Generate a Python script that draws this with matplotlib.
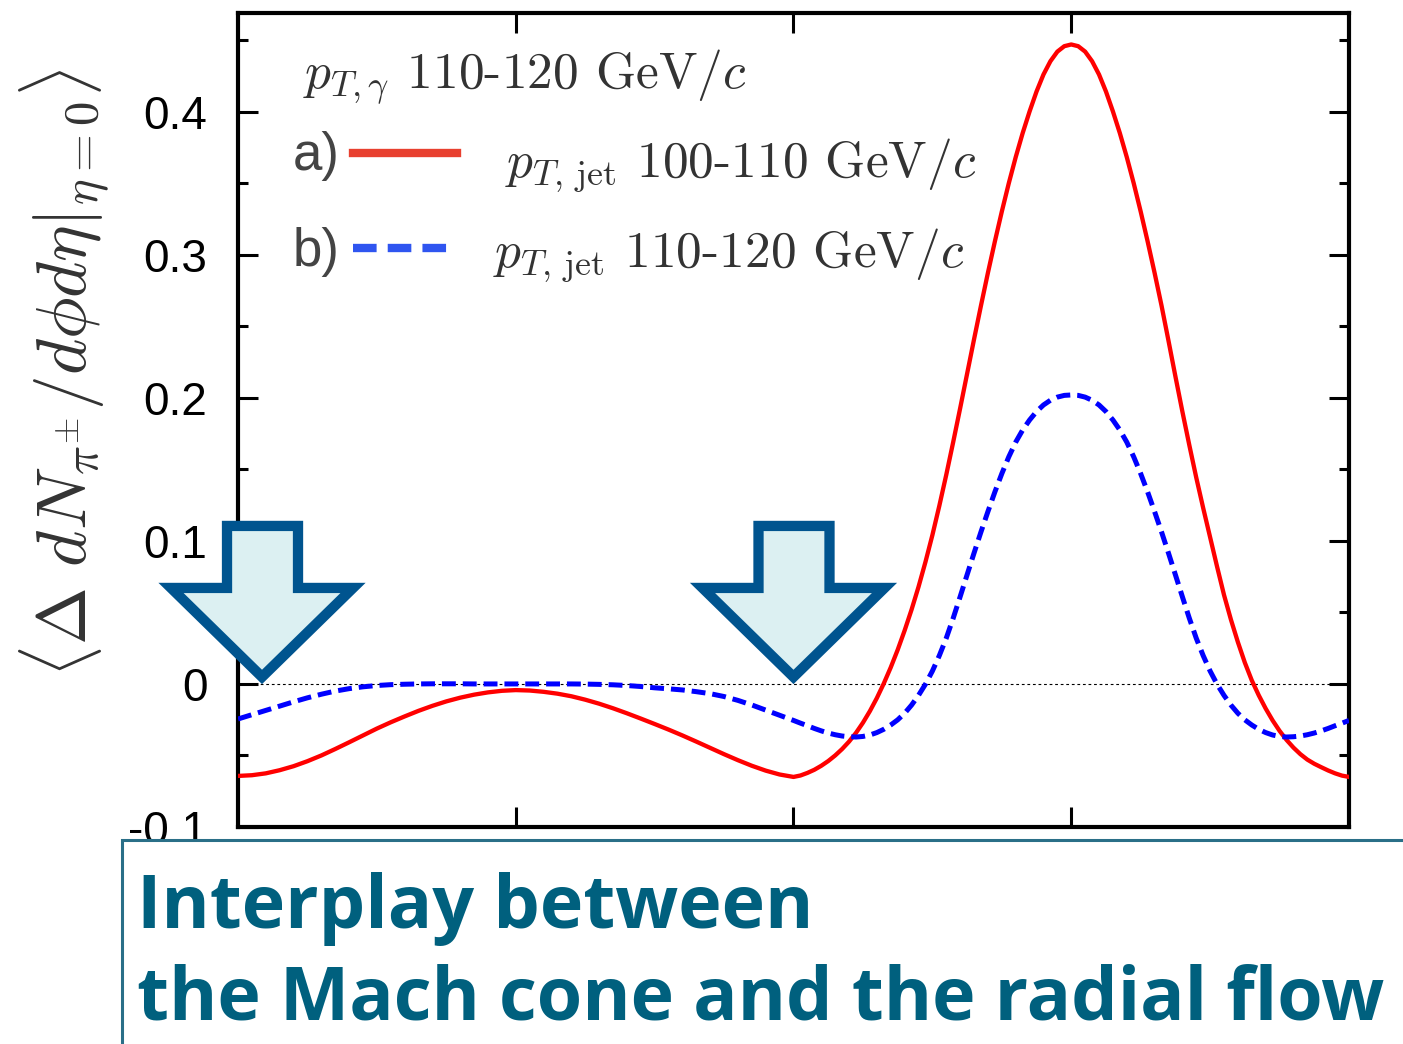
import numpy as np
import matplotlib.pyplot as plt
import matplotlib.transforms as mtransforms
from matplotlib.patches import Polygon, Rectangle
from matplotlib.lines import Line2D

plt.rcParams['mathtext.fontset'] = 'cm'
plt.rcParams['font.family'] = ['Liberation Sans', 'DejaVu Sans']
plt.rcParams['lines.scale_dashes'] = False

W, H = 1403, 1044

# azimuthal angle grid (-pi/2 .. 3pi/2), finer on the away side
steps = np.concatenate([np.arange(40) * 0.05, 2 + np.arange(81) * 0.025])
phi = -np.pi / 2 + steps * np.pi / 2

# a) pT,jet 100-110 GeV/c
dn_jet100 = [
    -0.0643, -0.0638, -0.0625, -0.0603, -0.0575, -0.0540, -0.0500, -0.0455, -0.0408, -0.0360,
    -0.0312, -0.0268, -0.0227, -0.0188, -0.0153, -0.0122, -0.0096, -0.0075, -0.0059, -0.0048,
    -0.0043, -0.0046, -0.0055, -0.0068, -0.0086, -0.0110, -0.0138, -0.0170, -0.0205, -0.0242,
    -0.0280, -0.0319, -0.0360, -0.0403, -0.0447, -0.0491, -0.0533, -0.0572, -0.0606, -0.0633,
    # away side
    -0.0650, -0.0640, -0.0622, -0.0600, -0.0572, -0.0539, -0.0500, -0.0455, -0.0403, -0.0342,
    -0.0271, -0.0190, -0.0099, 0.0003, 0.0115, 0.0238, 0.0373, 0.0519, 0.0678, 0.0852,
    0.1040, 0.1245, 0.1462, 0.1691, 0.1927, 0.2168, 0.2409, 0.2645, 0.2874, 0.3093,
    0.3302, 0.3499, 0.3682, 0.3850, 0.4002, 0.4141, 0.4260, 0.4353, 0.4420, 0.4458,
    0.4470, 0.4458, 0.4420, 0.4353, 0.4260, 0.4141, 0.4002, 0.3850, 0.3682, 0.3499,
    0.3302, 0.3093, 0.2874, 0.2645, 0.2400, 0.2150, 0.1905, 0.1670, 0.1443, 0.1230,
    0.1025, 0.0820, 0.0622, 0.0449, 0.0292, 0.0149, 0.0025, -0.0079, -0.0172, -0.0255,
    -0.0328, -0.0391, -0.0445, -0.0491, -0.0529, -0.0558, -0.0582, -0.0605, -0.0625, -0.0641,
    -0.0650,
]

# b) pT,jet 110-120 GeV/c
dn_jet110 = [
    -0.0245, -0.0215, -0.0185, -0.0155, -0.0125, -0.0097, -0.0072, -0.0050, -0.0033, -0.0020,
    -0.0011, -0.0005, -0.0002, 0.0000, 0.0001, 0.0001, 0.0001, 0.0000, 0.0000, 0.0000,
    0.0000, 0.0000, 0.0000, 0.0000, 0.0000, -0.0001, -0.0003, -0.0006, -0.0011, -0.0018,
    -0.0027, -0.0034, -0.0042, -0.0054, -0.0068, -0.0088, -0.0115, -0.0147, -0.0183, -0.0219,
    # away side
    -0.0255, -0.0274, -0.0292, -0.0311, -0.0328, -0.0343, -0.0355, -0.0364, -0.0369, -0.0371,
    -0.0367, -0.0357, -0.0340, -0.0317, -0.0287, -0.0251, -0.0205, -0.0148, -0.0080, -0.0002,
    0.0090, 0.0198, 0.0320, 0.0460, 0.0610, 0.0763, 0.0915, 0.1063, 0.1205, 0.1342,
    0.1470, 0.1587, 0.1690, 0.1775, 0.1845, 0.1904, 0.1950, 0.1983, 0.2005, 0.2017,
    0.2020, 0.2017, 0.2005, 0.1983, 0.1950, 0.1904, 0.1845, 0.1775, 0.1690, 0.1587,
    0.1470, 0.1342, 0.1205, 0.1063, 0.0915, 0.0763, 0.0610, 0.0460, 0.0320, 0.0198,
    0.0090, -0.0002, -0.0080, -0.0148, -0.0205, -0.0251, -0.0287, -0.0317, -0.0340, -0.0357,
    -0.0367, -0.0371, -0.0369, -0.0364, -0.0355, -0.0343, -0.0328, -0.0311, -0.0292, -0.0274,
    -0.0255,
]

# arrow tips (phi, value)
arrow_tips = [(-1.435, 0.0), (np.pi / 2, 0.0)]


def px(x, y):
    return x / W, 1 - y / H


fig = plt.figure(figsize=(W / 100, H / 100), dpi=100)
ax = fig.add_axes([238 / W, 1 - 827 / H, (1349 - 238) / W, (827 - 13) / H])

ax.axhline(0, color='black', lw=0.8, ls=(0, (2, 2)), zorder=1)
ax.plot(phi, dn_jet100, color='#ff0000', lw=3.1, zorder=3)
ax.plot(phi, dn_jet110, color='#0000ff', lw=3.6, dashes=(10, 5), zorder=3)

ax.set_xlim(-np.pi / 2, 3 * np.pi / 2)
ax.set_ylim(-0.1, 0.469)
ax.set_xticks([0, np.pi / 2, np.pi])
ax.set_yticks([-0.1, 0, 0.1, 0.2, 0.3, 0.4])
ax.set_yticklabels(['-0.1', '0', '0.1', '0.2', '0.3', '0.4'])
ax.set_yticks(np.arange(-0.05, 0.46, 0.1), minor=True)
ax.tick_params(which='both', direction='in', top=True, right=True, width=2.2)
ax.tick_params(which='major', length=14.5)
ax.tick_params(which='minor', length=7.2)
ax.tick_params(axis='x', labelbottom=False)
ax.tick_params(axis='y', labelsize=33, pad=22)
for s in ax.spines.values():
    s.set_linewidth(3)

# block arrows, shape in inches relative to the tip
shape = np.array([(-35, 158), (36, 158), (36, 96), (91, 96), (0, 7),
                  (-91, 96), (-35, 96)]) / 100.0
for tx, ty in arrow_tips:
    tr = fig.dpi_scale_trans + mtransforms.ScaledTranslation(tx, ty, ax.transData)
    ax.add_patch(Polygon(shape, closed=True, transform=tr, fc='#dcf0f2',
                         ec='#00548f', lw=7.4, joinstyle='miter',
                         clip_on=False, zorder=6))

# y label
fig.text(*px(64, 373),
         r'$\langle\Delta\ dN_{\pi^{\pm}}/d\phi d\eta|_{\eta=0}\rangle$',
         rotation=90, fontsize=50, color='#333333', ha='center', va='center')

# legend
gray = '#333333'
fig.text(*px(303, 88), r'$p_{T,\gamma}$ 110-120 GeV/$c$', family='cmr10',
         fontsize=37, color=gray, va='baseline')
fig.text(*px(293, 170), 'a)', fontsize=38, color='#444444', va='baseline')
fig.text(*px(293, 266), 'b)', fontsize=38, color='#444444', va='baseline')
fig.add_artist(Line2D([353 / W, 457 / W], [1 - 153 / H] * 2, color='#e8402f', lw=6))
fig.add_artist(Line2D([353 / W, 452 / W], [1 - 248 / H] * 2, color='#2f55f0', lw=6,
                      dashes=(17, 8)))
fig.text(*px(505, 177), r'$p_{T,\,\mathrm{jet}}$ 100-110 GeV/$c$', family='cmr10',
         fontsize=37, color=gray, va='baseline')
fig.text(*px(493, 267), r'$p_{T,\,\mathrm{jet}}$ 110-120 GeV/$c$', family='cmr10',
         fontsize=37, color=gray, va='baseline')

# caption box
fig.add_artist(Rectangle((122 / W, -0.1), 1.0, 1 - 840 / H + 0.1,
                         transform=fig.transFigure, fc='white', ec='#2a6f88',
                         lw=2.2, zorder=5))
cap_font = dict(family=['Open Sans', 'DejaVu Sans'], fontweight='bold',
                fontsize=53, color='#00607e', va='baseline', zorder=7)
fig.text(*px(137, 928), 'Interplay between', **cap_font)
fig.text(*px(137, 1019), 'the Mach cone and the radial flow', **cap_font)

fig.savefig('out.png', dpi=100)
